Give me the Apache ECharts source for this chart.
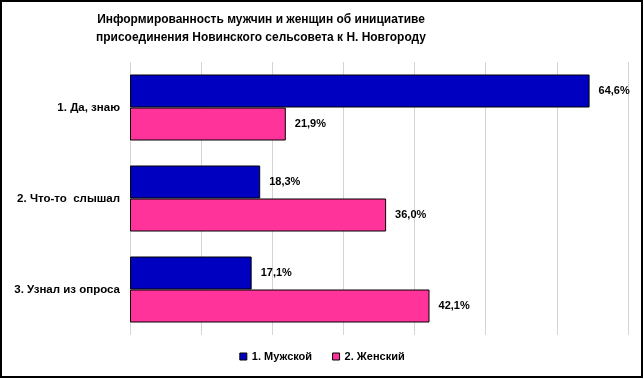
<!DOCTYPE html>
<html><head><meta charset="utf-8">
<script src="https://cdn.jsdelivr.net/npm/echarts@6/dist/echarts.min.js"></script>
<style>html,body{margin:0;padding:0;background:#fff}#c{width:644px;height:379px}</style>
</head><body><div id="c"></div>
<script>
const categories = ['1. Да, знаю', '2. Что-то  слышал', '3. Узнал из опроса'];
const seriesNames = ['1. Мужской', '2. Женский'];
const maleValues = [64.6, 18.3, 17.1];
const femaleValues = [21.9, 36.0, 42.1];
const titleLines = ['Информированность мужчин и женщин об инициативе', 'присоединения Новинского сельсовета к Н. Новгороду'];
const colors = ['#0000C0', '#FF3399'];

const font = 'Liberation Sans, Arial, sans-serif';
const chart = echarts.init(document.getElementById('c'), null, {renderer: 'canvas'});
const labelFmt = p => p.value.toFixed(1).replace('.', ',') + '%';
function mkSeries(name, data, color) {
  return {
    name, type: 'bar', data, barWidth: 33, barGap: '0%',
    itemStyle: {color, borderColor: '#000', borderWidth: 1},
    label: {show: true, position: 'right', distance: 9, formatter: labelFmt,
      color: '#000', fontWeight: 'bold', fontSize: 11, fontFamily: font}
  };
}
chart.setOption({
  animation: false,
  textStyle: {fontFamily: font},
  graphic: [
    {type: 'rect', shape: {x: 1, y: 1, width: 641, height: 376}, style: {fill: 'none', stroke: '#000', lineWidth: 2}, z: 100},
    {type: 'text', x: 261, y: 10, scaleX: 0.92, style: {text: titleLines.join('\n'), fill: '#000', font: 'bold 13px ' + font, textAlign: 'center', lineHeight: 18.5}}
  ],
  grid: {left: 130, right: 16, top: 62, bottom: 44},
  xAxis: {type: 'value', min: 0, max: 70, interval: 10,
    axisLabel: {show: false}, axisLine: {show: false}, axisTick: {show: false},
    splitLine: {show: true, lineStyle: {color: '#d4d4d4', width: 1}}},
  yAxis: {type: 'category', data: categories, inverse: true,
    axisLine: {show: false}, axisTick: {show: false},
    axisLabel: {color: '#000', fontWeight: 'bold', fontSize: 11.5, fontFamily: font, margin: 10}},
  legend: {bottom: 12, left: 'center', itemWidth: 7, itemHeight: 7, itemGap: 20,
    icon: 'rect',
    textStyle: {color: '#000', fontWeight: 'bold', fontSize: 11, fontFamily: font},
    data: seriesNames.map((n, i) => ({name: n, itemStyle: {color: colors[i], borderColor: '#000', borderWidth: 1}}))},
  series: [mkSeries(seriesNames[0], maleValues, colors[0]), mkSeries(seriesNames[1], femaleValues, colors[1])]
});
</script></body></html>
